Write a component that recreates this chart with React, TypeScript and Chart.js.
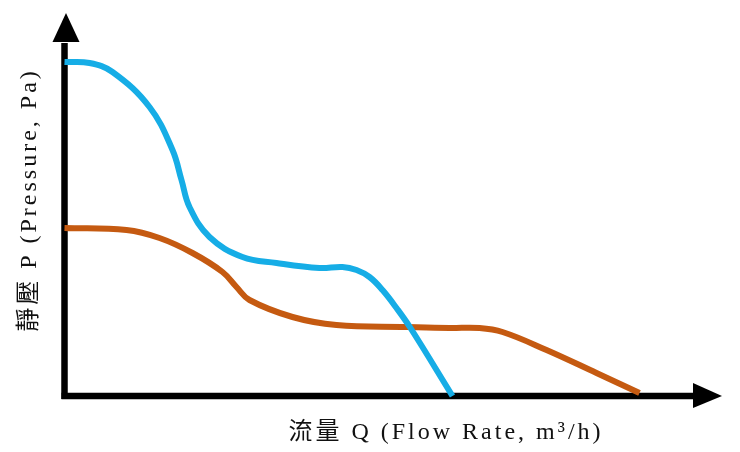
import { useEffect, useRef } from "react";
import { Chart, registerables } from "chart.js";

Chart.register(...registerables);

// flow rate (x) and static pressure (y), arbitrary units
const blueFlow = [0, 25, 48, 85, 108, 117, 125, 145, 178, 212, 255, 278, 292, 305, 318, 332, 346, 388];
const bluePressure = [334, 333, 324, 289, 246, 216, 189, 159, 139, 133, 128, 129, 126, 119, 106, 88, 68, 0];

const orangeFlow = [0, 62, 95, 128, 158, 172, 185, 228, 272, 342, 385, 415, 438, 482, 532, 575];
const orangePressure = [168, 166, 158, 143, 124, 109, 96, 79, 71, 69, 68, 68, 64, 46, 23, 3];

const xLabel = "流量 Q (Flow Rate, m³/h)";
const yLabel = "靜壓 P (Pressure, Pa)";

const toPoints = (xs: number[], ys: number[]) => xs.map((x, i) => ({ x, y: ys[i] }));

const axesPlugin = {
  id: "arrowAxes",
  beforeDatasetsDraw(chart: Chart) {
    const { ctx, chartArea } = chart;
    const { left, top, right, bottom } = chartArea;
    ctx.save();
    ctx.strokeStyle = "#000";
    ctx.fillStyle = "#000";
    ctx.lineWidth = 6.5;
    // y axis
    ctx.beginPath();
    ctx.moveTo(left, bottom + 3);
    ctx.lineTo(left, top + 30);
    ctx.stroke();
    ctx.beginPath();
    ctx.moveTo(left - 12, top + 29);
    ctx.lineTo(left + 15, top + 29);
    ctx.lineTo(left + 1.5, top);
    ctx.closePath();
    ctx.fill();
    // x axis
    ctx.beginPath();
    ctx.moveTo(left - 3, bottom);
    ctx.lineTo(right - 28, bottom);
    ctx.stroke();
    ctx.beginPath();
    ctx.moveTo(right - 29, bottom - 13);
    ctx.lineTo(right - 29, bottom + 12);
    ctx.lineTo(right, bottom);
    ctx.closePath();
    ctx.fill();

    // axis titles
    ctx.font = '24px "Liberation Serif", "Noto Sans CJK TC", serif';
    (ctx as any).letterSpacing = "3px";
    ctx.fillStyle = "#111";
    ctx.textAlign = "center";
    ctx.textBaseline = "middle";
    ctx.fillText(xLabel, 446, 433);
    ctx.translate(30, 200);
    ctx.rotate(-Math.PI / 2);
    ctx.fillText(yLabel, 0, 0);
    ctx.restore();
  },
};

const PumpCurves = () => {
  const canvasRef = useRef<HTMLCanvasElement>(null);
  useEffect(() => {
    if (!canvasRef.current) return;
    const ctx = canvasRef.current.getContext("2d");
    if (!ctx) return;

    const chart = new Chart(ctx, {
      type: "scatter",
      data: {
        datasets: [
          {
            data: toPoints(blueFlow, bluePressure),
            borderColor: "#16ade6",
            borderWidth: 6,
            showLine: true,
            pointRadius: 0,
            tension: 0.4,
            clip: false,
          },
          {
            data: toPoints(orangeFlow, orangePressure),
            borderColor: "#c55a11",
            borderWidth: 6,
            showLine: true,
            pointRadius: 0,
            tension: 0.4,
            clip: false,
          },
        ],
      },
      options: {
        animation: false,
        responsive: false,
        layout: { padding: { left: 64.5, right: 18, top: 13, bottom: 56 } },
        plugins: { legend: { display: false }, tooltip: { enabled: false } },
        scales: {
          x: { type: "linear", min: 0, max: 657.5, display: false },
          y: { min: 0, max: 383, display: false },
        },
      },
      plugins: [axesPlugin],
    });

    return () => chart.destroy();
  }, []);

  return <canvas ref={canvasRef} width={740} height={452}></canvas>;
};

export default function App() {
  return (
    <div style={{ position: "fixed", left: 0, top: 0, width: 740, height: 452, background: "#fff" }}>
      <PumpCurves />
    </div>
  );
}
